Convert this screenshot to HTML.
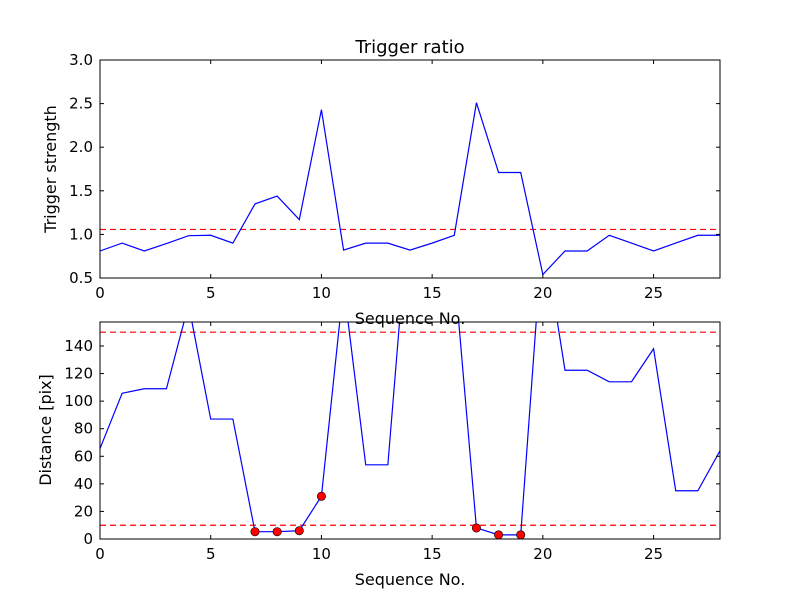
<!DOCTYPE html>
<html><head><meta charset="utf-8"><style>
body{margin:0;background:#fff;}
svg{display:block;font-family:"DejaVu Sans","Liberation Sans",sans-serif;}
</style></head><body>
<svg id="fig" width="800" height="600">
<rect width="800" height="600" fill="#fff"/>
<g id="topPanel"></g><g id="botPanel"></g>
<text x="410" y="53" text-anchor="middle" font-size="18">Trigger ratio</text>
<text x="410" y="324" text-anchor="middle" font-size="16">Sequence No.</text>
<text x="410" y="585" text-anchor="middle" font-size="16">Sequence No.</text>
<text transform="translate(56,169) rotate(-90)" text-anchor="middle" font-size="16">Trigger strength</text>
<text transform="translate(51,430) rotate(-90)" text-anchor="middle" font-size="16">Distance [pix]</text>
</svg>
<script>
const seq = Array.from({length:29},(_,i)=>i);
const triggerStrength = [0.81,0.90,0.81,0.895,0.985,0.99,0.90,1.35,1.44,1.17,2.43,0.82,0.90,0.90,0.82,0.90,0.99,2.51,1.71,1.71,0.54,0.81,0.81,0.99,0.90,0.81,0.90,0.99,0.99];
const triggerThreshold = [1.057];
const distance = [65.6,105.7,109,109,170,87,87,5.3,5.3,6,31,184,53.8,53.8,250,250,195,8,3,3,224,122.4,122.4,114,114,138,35,35,64];
const distanceThresholds = [150,10];
const flaggedIdx = [7,8,9,10,17,18,19];
const xTicks = [0,5,10,15,20,25];
const topYTicks = ["0.5","1.0","1.5","2.0","2.5","3.0"];
const botYTicks = ["0","20","40","60","80","100","120","140"];

const NS="http://www.w3.org/2000/svg";
function el(tag,attrs,parent,txt){const e=document.createElementNS(NS,tag);for(const k in attrs)e.setAttribute(k,attrs[k]);if(txt!==undefined)e.textContent=txt;parent.appendChild(e);return e;}

function panel(g,box,ymin,ymax,yTicks,values,thresholds,name,dots){
  const L=box[0],T=box[1],R=box[2],B=box[3];
  const sx=v=>L+(v-0)/(28-0)*(R-L);
  const sy=v=>B-(v-ymin)/(ymax-ymin)*(B-T);
  const clip=el('clipPath',{id:'clip-'+name},g);el('rect',{x:L,y:T,width:R-L,height:B-T},clip);
  thresholds.forEach(t=>{const l=el('line',{x1:L,x2:R,y1:sy(t),y2:sy(t),stroke:'#f00','stroke-width':1.2,'stroke-dasharray':'6,4'},g);
    
    });
  const pts=values.map((v,i)=>sx(seq[i])+','+sy(v)).join(' ');
  const pl=el('polyline',{points:pts,fill:'none',stroke:'#00f','stroke-width':1.2,'clip-path':'url(#clip-'+name+')'},g);
  
  
  if(dots){dots.forEach(i=>{const c=el('circle',{cx:sx(seq[i]),cy:sy(values[i]),r:4.2,fill:'#f00',stroke:'#000','stroke-width':0.6},g);
    
    });}
  const fr=el('rect',{x:L,y:T,width:R-L,height:B-T,fill:'none',stroke:'#000','stroke-width':1},g);
  
  
  xTicks.forEach(t=>{const x=sx(t);
    el('line',{x1:x,x2:x,y1:B,y2:B-4,stroke:'#000'},g);el('line',{x1:x,x2:x,y1:T,y2:T+4,stroke:'#000'},g);
    const tx=el('text',{x:x,y:B+20,'text-anchor':'middle','font-size':15},g,String(t));
    
    });
  yTicks.forEach(s=>{const y=sy(parseFloat(s));
    el('line',{x1:L,x2:L+4,y1:y,y2:y,stroke:'#000'},g);el('line',{x1:R,x2:R-4,y1:y,y2:y,stroke:'#000'},g);
    const tx=el('text',{x:L-7,y:y+5,'text-anchor':'end','font-size':15},g,s);
    
    });
}
const topG=document.getElementById('topPanel'),botG=document.getElementById('botPanel');
panel(topG,[100,60,720,278],0.5,3.0,topYTicks,triggerStrength,triggerThreshold,'trigger',null);
panel(botG,[100,322,720,539],0,157.4,botYTicks,distance,distanceThresholds,'distance',flaggedIdx);
</script>
</body></html>
